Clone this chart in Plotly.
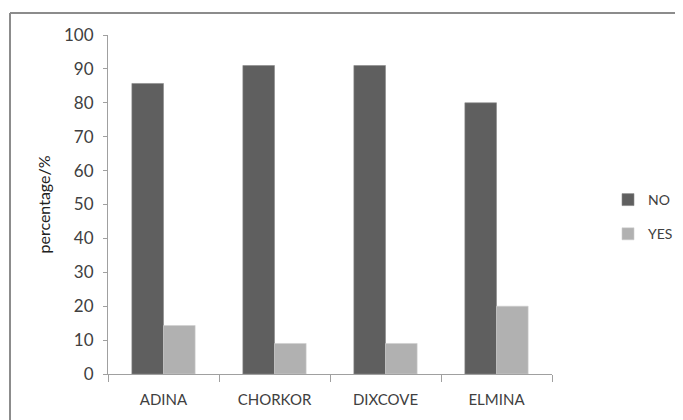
import plotly.graph_objects as go

categories = ["ADINA", "CHORKOR", "DIXCOVE", "ELMINA"]
no_values = [85.7, 91.0, 91.0, 80.0]
yes_values = [14.3, 9.0, 9.0, 20.0]
y_ticks = [0, 10, 20, 30, 40, 50, 60, 70, 80, 90, 100]

# page offset of the plot div (browser default body margin)
OFF = 8
W, H = 683 - OFF, 420 - OFF
# plot area in screen pixels
PX0, PX1, PY0, PY1 = 108, 552, 35, 374
L, R, T, B = PX0 - OFF, W - (PX1 - OFF), PY0 - OFF, H - (PY1 - OFF)
pw, ph = PX1 - PX0, PY1 - PY0

def px_x(p):
    return (p - PX0) / pw

def px_y(p):
    return (PY1 - p) / ph

FAM = "Lato, Liberation Sans, Arial, sans-serif"
font = dict(family=FAM, size=14, color="#404040")

fig = go.Figure()
fig.add_trace(go.Bar(x=categories, y=no_values, name="NO", legendgroup="no",
                     marker=dict(color="#5f5f5f", line=dict(color="#8a8a8a", width=0.6))))
fig.add_trace(go.Bar(x=categories, y=yes_values, name="YES", legendgroup="yes",
                     marker=dict(color="#b1b1b1", line=dict(color="#cfcfcf", width=0.6))))

fig.update_layout(
    width=W, height=H,
    margin=dict(l=L, r=R, t=T, b=B, pad=0, autoexpand=False),
    paper_bgcolor="white", plot_bgcolor="white",
    font=font,
    barmode="group", bargap=0.43, bargroupgap=0,
    showlegend=True,
    legend=dict(x=px_x(608), y=px_y(184), xanchor="left", yanchor="top",
                traceorder="grouped", tracegroupgap=13, itemwidth=30,
                font=dict(family=FAM, size=14, color="#404040"), bgcolor="rgba(0,0,0,0)"),
    xaxis=dict(type="category", range=[-0.5, 3.5], showline=True, linecolor="#a0a0a0",
               linewidth=1, ticks="outside", ticklen=7, tickcolor="#a0a0a0",
               tickson="boundaries", showgrid=False, zeroline=False, automargin=False,
               tickfont=dict(family=FAM, size=15, color="#404040"), ticklabelstandoff=12),
    yaxis=dict(range=[0, 100], tickvals=y_ticks, showline=True, linecolor="#a0a0a0",
               linewidth=1, ticks="outside", ticklen=4, tickcolor="#a0a0a0",
               showgrid=False, zeroline=False, automargin=False,
               tickfont=dict(family=FAM, size=17, color="#404040"),
               ticklabelstandoff=6,
               title=dict(text="percentage/%", font=dict(family=FAM, size=16, color="#202020"),
                          standoff=9)),
    shapes=[
        dict(type="line", xref="paper", yref="paper", x0=px_x(10), x1=px_x(10),
             y0=px_y(13), y1=px_y(430), line=dict(color="#8c8c8c", width=2)),
        dict(type="line", xref="paper", yref="paper", x0=px_x(10), x1=px_x(700),
             y0=px_y(13), y1=px_y(13), line=dict(color="#8c8c8c", width=2)),
    ],
)

fig.write_html("out.html", default_width=f"{W}px", default_height=f"{H}px")
